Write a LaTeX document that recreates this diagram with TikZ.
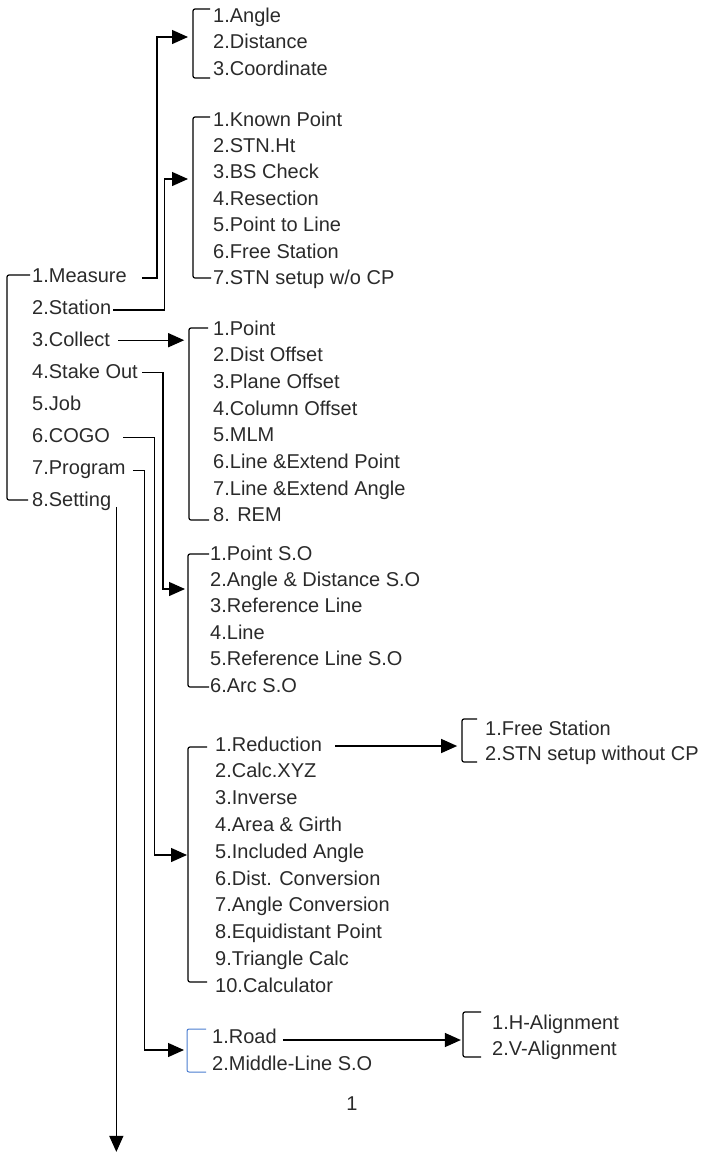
\documentclass[tikz,border=0pt]{standalone}
\usepackage{fontspec}
\setmainfont{Liberation Sans}
\usetikzlibrary{arrows.meta,positioning}
\definecolor{mtext}{HTML}{2A2A2A}
\definecolor{mblue}{HTML}{4A7CCF}
\tikzset{
  item/.style={anchor=west, inner sep=0pt, text height=14pt, text depth=0pt,
               text=mtext, font=\fontsize{20}{24}\selectfont},
  arr/.style={-{Triangle[length=16pt,width=14pt]}, line width=1.3pt},
  brk/.style={line width=1.2pt, rounded corners=2pt},
}

\begin{document}
\begin{tikzpicture}[x=1pt,y=-1pt]
  \useasboundingbox (0,0) rectangle (710,1154);

  % main menu
  \foreach \t [count=\i] in {1.Measure,2.Station,3.Collect,4.Stake Out,5.Job,6.COGO,7.Program,8.Setting}
    \node[item] (m\i) at (32,{275+32.1*(\i-1)}) {\t};
  \draw[brk] (30,275) -| (7,500) -- (28,500);

  % measure
  \foreach \t [count=\i] in {1.Angle,2.Distance,3.Coordinate}
    \node[item] (a\i) at (213,{15+26.5*(\i-1)}) {\t};
  \draw[brk] (210,9) -| (193,78) -- (210,78);
  \coordinate (t1) at (188,37);

  % station
  \foreach \t [count=\i] in {1.Known Point,2.STN.Ht,3.BS Check,4.Resection,5.Point to Line,6.Free Station,7.STN setup w/o CP}
    \node[item] (s\i) at (213,{119+26.4*(\i-1)}) {\t};
  \draw[brk] (210,117) -| (193,278) -- (211,278);
  \coordinate (t2) at (188,179);

  % collect
  \foreach \t [count=\i] in {1.Point,2.Dist Offset,3.Plane Offset,4.Column Offset,5.MLM,6.Line \&Extend Point,7.Line \&Extend Angle,8. REM}
    \node[item] (c\i) at (213,{328+26.7*(\i-1)}) {\t};
  \draw[brk] (208,328) -| (189,520) -- (209,520);

  % stake out
  \foreach \t [count=\i] in {1.Point S.O,2.Angle \& Distance S.O,3.Reference Line,4.Line,5.Reference Line S.O,6.Arc S.O}
    \node[item] (k\i) at (210,{553+26.4*(\i-1)}) {\t};
  \draw[brk] (209,554) -| (188,687) -- (209,687);
  \coordinate (t4) at (185,589);

  % cogo
  \foreach \t [count=\i] in {1.Reduction,2.Calc.XYZ,3.Inverse,4.Area \& Girth,5.Included Angle,6.Dist. Conversion,7.Angle Conversion,8.Equidistant Point,9.Triangle Calc,10.Calculator}
    \node[item] (g\i) at (215,{744+26.8*(\i-1)}) {\t};
  \draw[brk] (207,747) -| (188,982) -- (207,982);
  \coordinate (t5) at (187,855);

  % reduction
  \node[item] (r1) at (485,728) {1.Free Station};
  \node[item] (r2) at (485,753) {2.STN setup without CP};
  \draw[brk] (477,719) -| (462,762) -- (477,762);

  % program
  \node[item] (p1) at (212,1036) {1.Road};
  \node[item] (p2) at (212,1063) {2.Middle-Line S.O};
  \draw[brk, mblue, line width=1pt] (206,1029) -| (187,1072) -- (206,1072);
  \coordinate (t6) at (184,1050);

  % road
  \node[item] (h1) at (492,1022) {1.H-Alignment};
  \node[item] (h2) at (492,1048) {2.V-Alignment};
  \draw[brk] (481,1012) -| (463,1057) -- (481,1057);

  % connectors
  \draw[arr] ([xshift=15pt,yshift=-3pt]m1.east) -- ++(15,0) |- (t1);
  \draw[arr] ([xshift=2pt,yshift=-3pt]m2.east) -- ++(51,0) |- (t2);
  \draw[arr] ([xshift=8pt,yshift=-1pt]m3.east) -- ++(66,0);
  \draw[arr] ([xshift=4pt,yshift=-1pt]m4.east) -- ++(21,0) |- (t4);
  \draw[arr] ([xshift=13pt,yshift=-2pt]m6.east) -- ++(31,0) |- (t5);
  \draw[arr] ([xshift=7pt,yshift=-3pt]m7.east) -- ++(12,0) |- (t6);
  \draw[arr] ([xshift=5pt]m8.south east) -- ++(0,645);
  \draw[arr] ([xshift=13pt,yshift=-2pt]g1.east) -- ++(122,0);
  \draw[arr] ([xshift=6pt,yshift=-4pt]p1.east) -- ++(178,0);

  % page number
  \node[item, anchor=center] (pg) at (352,1103) {1};
\end{tikzpicture}
\end{document}
